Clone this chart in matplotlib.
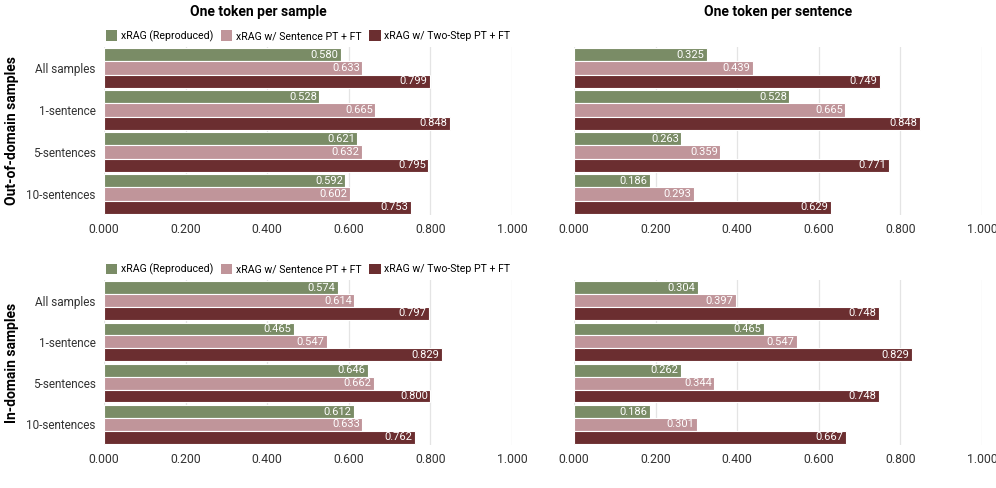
import matplotlib
matplotlib.use('Agg')
from matplotlib import pyplot as plt
from matplotlib.patches import Patch
import numpy as np

plt.rcParams['font.family'] = ['Roboto', 'DejaVu Sans']

categories = ['All samples', '1-sentence', '5-sentences', '10-sentences']
seriesNames = ['xRAG (Reproduced)', 'xRAG w/ Sentence PT + FT', 'xRAG w/ Two-Step PT + FT']
seriesColors = ['#7a8c66', '#c0959a', '#6b2e30']
columnTitles = ['One token per sample', 'One token per sentence']
rowTitles = ['Out-of-domain samples', 'In-domain samples']
xTicks = [0.0, 0.2, 0.4, 0.6, 0.8, 1.0]

# out-of-domain, one token per sample
oodSample = [[0.580, 0.528, 0.621, 0.592],
             [0.633, 0.665, 0.632, 0.602],
             [0.799, 0.848, 0.795, 0.753]]
# out-of-domain, one token per sentence
oodSentence = [[0.325, 0.528, 0.263, 0.186],
               [0.439, 0.665, 0.359, 0.293],
               [0.749, 0.848, 0.771, 0.629]]
# in-domain, one token per sample
idSample = [[0.574, 0.465, 0.646, 0.612],
            [0.614, 0.547, 0.662, 0.633],
            [0.797, 0.829, 0.800, 0.762]]
# in-domain, one token per sentence
idSentence = [[0.304, 0.465, 0.262, 0.186],
              [0.397, 0.547, 0.344, 0.301],
              [0.748, 0.829, 0.748, 0.667]]

panels = [[oodSample, oodSentence], [idSample, idSentence]]


def drawPanel(axis, values, showCategories):
    barHeight = 0.31
    positions = np.arange(len(categories))
    for index, (series, color) in enumerate(zip(values, seriesColors)):
        y = positions + (index - 1) * barHeight
        bars = axis.barh(y, series, height=barHeight, color=color,
                         edgecolor='white', linewidth=0.8, zorder=2)
        for bar, value in zip(bars, series):
            axis.text(value - 0.006, bar.get_y() + bar.get_height() / 2,
                      '{:.3f}'.format(value), color='white', fontsize=8,
                      ha='right', va='center', zorder=3)
    axis.set_xlim(0, 1.0)
    axis.set_ylim(len(categories) - 0.5, -0.5)
    axis.set_xticks(xTicks)
    axis.set_xticklabels(['{:.3f}'.format(t) for t in xTicks], fontsize=8.8, color='#333333')
    axis.set_yticks(positions)
    if showCategories:
        axis.set_yticklabels(categories, fontsize=8.5, color='#333333')
    else:
        axis.set_yticklabels([])
    axis.tick_params(length=0, pad=6)
    axis.grid(axis='x', color='#e4e4e4', linewidth=0.9, zorder=0)
    axis.set_axisbelow(True)
    for spine in axis.spines.values():
        spine.set_visible(False)


figure = plt.figure(figsize=(9.96, 4.88), dpi=100)
axesLeft = [0.1044, 0.5763]
axesWidth = 0.4096
axesRows = [(0.5594, 0.3443), (0.0881, 0.3381)]

legendHandles = [Patch(facecolor=c, edgecolor='none') for c in seriesColors]

for row, (bottom, height) in enumerate(axesRows):
    for col, left in enumerate(axesLeft):
        axis = figure.add_axes([left, bottom, axesWidth, height])
        drawPanel(axis, panels[row][col], col == 0)
        if col == 0:
            axis.legend(legendHandles, seriesNames, loc='lower center',
                        bbox_to_anchor=(0.5, 1.0), ncol=3, frameon=False,
                        fontsize=7.6, handlelength=1.1, handleheight=1.1,
                        handletextpad=0.35, columnspacing=0.7, borderaxespad=0.1)
    figure.text(0.012, bottom + height / 2, rowTitles[row], rotation=90,
                ha='center', va='center', fontsize=10, fontweight='bold')

figure.text(258 / 996, 1 - 12 / 488, columnTitles[0], ha='center', va='center',
            fontsize=10, fontweight='bold')
figure.text(778 / 996, 1 - 12 / 488, columnTitles[1], ha='center', va='center',
            fontsize=10, fontweight='bold')

plt.savefig('out.png', dpi=100)
